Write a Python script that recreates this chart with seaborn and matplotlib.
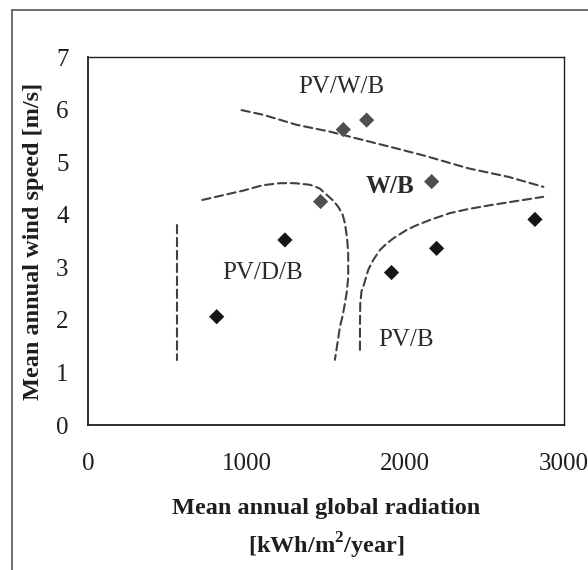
import matplotlib
matplotlib.use("Agg")
import matplotlib.pyplot as plt
from matplotlib.lines import Line2D
import seaborn as sns

# Sites: mean annual global radiation [kWh/m2/year] and mean wind speed [m/s]
radiation = [811, 1241, 1466, 1609, 1756, 2166, 1913, 2197, 2817]
wind_speed = [2.06, 3.52, 4.25, 5.62, 5.80, 4.63, 2.90, 3.36, 3.91]
shade = ["dark", "dark", "grey", "grey", "grey", "grey", "dark", "dark", "dark"]

# Hand-drawn region boundaries between optimal system configurations
edge_diesel_x = [559, 559]
edge_diesel_y = [3.80, 1.24]

edge_pvdb_x = [720, 850, 980, 1100, 1210, 1300, 1399, 1460, 1504, 1545, 1577,
               1605, 1619, 1633, 1640, 1640, 1632, 1619, 1605, 1588, 1572, 1556]
edge_pvdb_y = [4.28, 4.37, 4.46, 4.56, 4.60, 4.60, 4.57, 4.50, 4.38, 4.27, 4.15,
               4.00, 3.84, 3.55, 3.27, 2.82, 2.55, 2.31, 2.08, 1.87, 1.55, 1.24]

edge_pvb_x = [1714, 1714, 1716, 1724, 1735, 1766, 1798, 1840, 1882, 1924, 2008,
              2071, 2155, 2281, 2400, 2533, 2700, 2869]
edge_pvb_y = [1.43, 1.90, 2.31, 2.55, 2.63, 2.95, 3.14, 3.33, 3.45, 3.55, 3.71,
              3.80, 3.90, 4.03, 4.11, 4.18, 4.26, 4.34]

edge_wind_x = [968, 1105, 1315, 1525, 1735, 1945, 2124, 2400, 2650, 2870]
edge_wind_y = [5.99, 5.90, 5.71, 5.58, 5.42, 5.26, 5.12, 4.88, 4.72, 4.53]

region_labels = ["PV/W/B", "W/B", "PV/D/B", "PV/B"]
label_x = [1594, 1903, 1100, 2004]
label_y = [6.43, 4.53, 2.89, 1.62]
label_weight = ["normal", "bold", "normal", "normal"]

x_ticks = [0, 1000, 2000, 3000]
y_ticks = [0, 1, 2, 3, 4, 5, 6, 7]

sns.set_style("white")
plt.rcParams["font.family"] = ["Liberation Serif", "DejaVu Serif"]
plt.rcParams["mathtext.fontset"] = "custom"
plt.rcParams["mathtext.rm"] = "Liberation Serif:bold"
plt.rcParams["mathtext.bf"] = "Liberation Serif:bold"

ink = "#1e1e1e"
fig = plt.figure(figsize=(5.88, 5.70), dpi=100)
fig.patch.set_facecolor("white")
ax = fig.add_axes([88 / 588, 1 - 425 / 570, (564 - 88) / 588, (425 - 57) / 570])
ax.set_facecolor("white")

dash_style = dict(color="#404040", linewidth=1.5, linestyle=(0, (4, 2.2)),
                  dash_capstyle="round")
for bx, by in [(edge_diesel_x, edge_diesel_y), (edge_pvdb_x, edge_pvdb_y),
               (edge_pvb_x, edge_pvb_y), (edge_wind_x, edge_wind_y)]:
    sns.lineplot(x=bx, y=by, sort=False, estimator=None, ax=ax, **dash_style)

sns.scatterplot(x=radiation, y=wind_speed, hue=shade,
                palette={"dark": "#161616", "grey": "#4f4f4f"},
                marker="D", s=60, linewidth=0, legend=False, ax=ax, zorder=3)

for text, tx, ty, w in zip(region_labels, label_x, label_y, label_weight):
    ax.text(tx, ty, text, ha="center", va="center", fontsize=18,
            color="#2a2a2a", fontweight=w)

ax.set_xlim(0, 3000)
ax.set_ylim(0, 7)
ax.set_xticks(x_ticks)
ax.set_yticks(y_ticks)
ax.tick_params(axis="y", direction="out", length=5, width=1, colors=ink,
               labelsize=18, pad=9)
ax.tick_params(axis="x", direction="out", length=5, width=1, colors=ink,
               labelsize=18, pad=15)
for side in ["left", "bottom", "right", "top"]:
    ax.spines[side].set_visible(True)
    ax.spines[side].set_color(ink)
    ax.spines[side].set_linewidth(1.3)
ax.spines["top"].set_linewidth(1.0)
ax.spines["right"].set_linewidth(1.0)

ax.set_xlabel("Mean annual global radiation\n[kWh/m$^{2}$/year]",
              fontsize=17.5, fontweight="bold", color=ink, linespacing=1.5,
              labelpad=17)
ax.set_ylabel("Mean annual wind speed [m/s]", fontsize=17.5,
              fontweight="bold", color=ink, labelpad=9)

# Page frame around the figure
fig.add_artist(Line2D([12 / 588, 12 / 588], [0, 1 - 10 / 570],
                      transform=fig.transFigure, color="#555555", lw=1.2))
fig.add_artist(Line2D([12 / 588, 1], [1 - 10 / 570, 1 - 10 / 570],
                      transform=fig.transFigure, color="#555555", lw=1.2))

fig.savefig("out.png", dpi=100, facecolor="white")
